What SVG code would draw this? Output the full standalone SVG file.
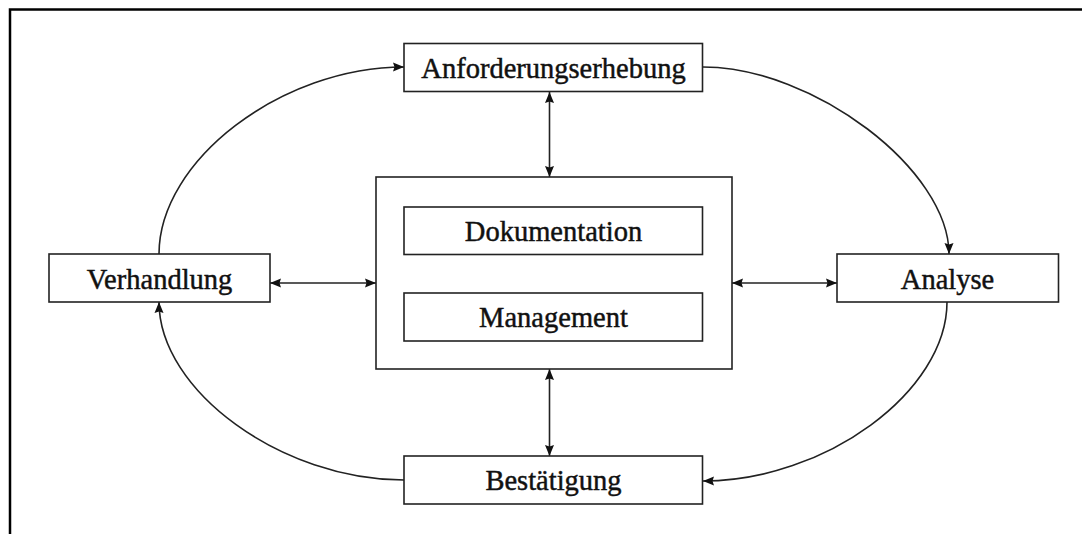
<svg xmlns="http://www.w3.org/2000/svg" width="1082" height="534" viewBox="0 0 1082 534">
  <style>
    .box { fill: #ffffff; stroke: #222222; stroke-width: 1.6; }
    .label { font-family: "Liberation Serif", "Times New Roman", serif; font-size: 28.5px; fill: #111111; stroke: #111111; stroke-width: 0.45; text-anchor: middle; }
    .link { fill: none; stroke: #222222; stroke-width: 1.6; }
    .frame { fill: none; stroke: #000000; stroke-width: 2.5; }
  </style>
  <defs>
    <marker id="head" markerUnits="userSpaceOnUse" markerWidth="12" markerHeight="10" refX="11" refY="5" orient="auto-start-reverse">
      <path d="M0,0.5 L11,5 L0,9.5 L1.5,5 Z" fill="#111111"/>
    </marker>
  </defs>

  <rect width="1082" height="534" fill="#ffffff"/>
  <!-- frame: top and left edges only -->
  <path class="frame" d="M10,534 L10,9.5 L1082,9.5"/>

  <!-- connectors -->
  <g id="connectors">
    <!-- cycle around the central block -->
    <path class="link" marker-end="url(#head)" d="M159,254 C159,160.5 281.5,67 404,67"/>
    <path class="link" marker-end="url(#head)" d="M703,67 C813.7,67 949,170 949,254"/>
    <path class="link" marker-end="url(#head)" d="M947,302 C947,391.5 825,481 703,481"/>
    <path class="link" marker-end="url(#head)" d="M404,480 C282,480 159,391 159,302"/>
    <!-- links to the central block -->
    <path class="link" marker-start="url(#head)" marker-end="url(#head)" d="M549.5,92 L549.5,177"/>
    <path class="link" marker-start="url(#head)" marker-end="url(#head)" d="M549.5,369 L549.5,456"/>
    <path class="link" marker-start="url(#head)" marker-end="url(#head)" d="M270,283 L376,283"/>
    <path class="link" marker-start="url(#head)" marker-end="url(#head)" d="M732,283 L837,283"/>
  </g>

  <g id="anforderungserhebung">
    <rect class="box" x="404" y="43.5" width="298.5" height="48"/>
    <text class="label" x="553.5" y="77.5">Anforderungserhebung</text>
  </g>

  <g id="verhandlung">
    <rect class="box" x="49" y="254" width="221" height="48"/>
    <text class="label" x="159.5" y="289">Verhandlung</text>
  </g>

  <g id="analyse">
    <rect class="box" x="837" y="254" width="221.5" height="48"/>
    <text class="label" x="947.5" y="288.5">Analyse</text>
  </g>

  <g id="bestaetigung">
    <rect class="box" x="404" y="456" width="298.5" height="48"/>
    <text class="label" x="553.5" y="490">Bestätigung</text>
  </g>

  <g id="kern">
    <rect class="box" x="376" y="177" width="356" height="192"/>
    <g id="dokumentation">
      <rect class="box" x="404" y="207" width="298.5" height="47.5"/>
      <text class="label" x="553.5" y="240.5">Dokumentation</text>
    </g>
    <g id="management">
      <rect class="box" x="404" y="293" width="298.5" height="48"/>
      <text class="label" x="553.5" y="327">Management</text>
    </g>
  </g>
</svg>
